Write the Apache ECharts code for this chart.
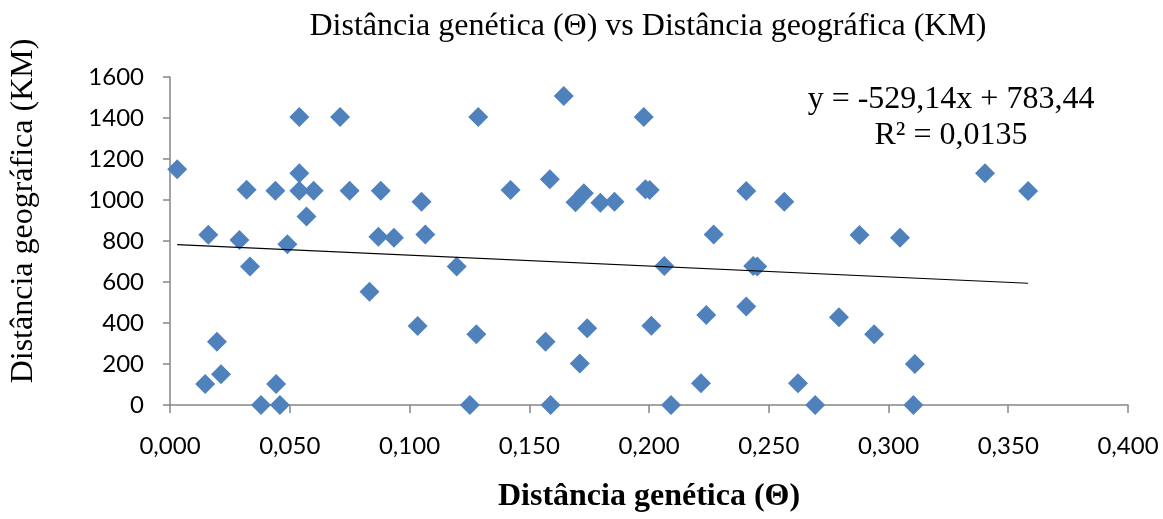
<!DOCTYPE html>
<html>
<head>
<meta charset="utf-8">
<title>Distância genética vs Distância geográfica</title>
<script src="https://cdn.jsdelivr.net/npm/echarts@6/dist/echarts.min.js"></script>
<style>
  html, body { margin: 0; padding: 0; background: #fff; }
  #chart { width: 1163px; height: 519px; }
</style>
</head>
<body>
<div id="chart"></div>
<script>
// genetic distance (Θ) per pair
var geneticDist = [
  0.003, 0.054, 0.071, 0.054, 0.032, 0.044, 0.054, 0.060, 0.075, 0.088,
  0.057, 0.105, 0.016, 0.029, 0.049, 0.087, 0.0935, 0.1066, 0.0334, 0.1197,
  0.0833, 0.1034, 0.0196, 0.0213, 0.0147, 0.0443, 0.038, 0.0459, 0.1287, 0.1644,
  0.1978, 0.1422, 0.1586, 0.1693, 0.1728, 0.1797, 0.1856, 0.1985, 0.2003, 0.2406,
  0.2565, 0.227, 0.2064, 0.2435, 0.2452, 0.1279, 0.1568, 0.1742, 0.201, 0.2239,
  0.2406, 0.1711, 0.2217, 0.1252, 0.1589, 0.2092, 0.3403, 0.3583, 0.2879, 0.3048,
  0.2793, 0.294, 0.311, 0.2622, 0.2694, 0.3104
];
// geographic distance (KM) per pair
var geoDist = [
  1150, 1405, 1405, 1130, 1050, 1045, 1045, 1045, 1045, 1045,
  920, 992, 830, 805, 784, 821, 816, 832, 676, 676,
  553, 385, 309, 150, 102, 102, 0, 0, 1405, 1507,
  1405, 1049, 1101, 989, 1033, 987, 992, 1052, 1049, 1044,
  992, 832, 678, 678, 676, 345, 309, 374, 387, 439,
  480, 203, 106, 0, 0, 0, 1130, 1044, 829, 816,
  428, 345, 200, 106, 0, 0
];
var yTicks = [0, 200, 400, 600, 800, 1000, 1200, 1400, 1600];

// linear trendline as printed on the chart
var slope = -529.14;
var intercept = 783.44;
var equationText = 'y = -529,14x + 783,44\nR² = 0,0135';

var points = geneticDist.map(function (x, i) { return [x, geoDist[i]]; });
var xMin = Math.min.apply(null, geneticDist);
var xMax = Math.max.apply(null, geneticDist);
var trend = [[xMin, slope * xMin + intercept], [xMax, slope * xMax + intercept]];

var serif = "'Liberation Serif', 'Times New Roman', serif";
var sans = "Lato, 'Liberation Sans', sans-serif";

var chart = echarts.init(document.getElementById('chart'));
chart.setOption({
  animation: false,
  title: [{
    text: 'Distância genética (Θ) vs Distância geográfica (KM)',
    left: 643,
    top: 6,
    textAlign: 'center',
    textStyle: { fontFamily: serif, fontWeight: 'normal', fontSize: 32, color: '#000' }
  }, {
    text: equationText,
    left: 946,
    top: 77,
    textAlign: 'center',
    textStyle: { fontFamily: serif, fontWeight: 'normal', fontSize: 32, lineHeight: 36, color: '#000', align: 'center' }
  }],
  grid: { left: 168, right: 35, top: 77, bottom: 114, containLabel: false },
  xAxis: {
    type: 'value',
    min: 0,
    max: 0.4,
    interval: 0.05,
    name: 'Distância genética (Θ)',
    nameLocation: 'middle',
    nameGap: 76,
    nameTextStyle: { fontFamily: serif, fontWeight: 'bold', fontSize: 32, color: '#000' },
    axisLine: { lineStyle: { color: '#868686', width: 1.5 } },
    axisTick: { show: true, inside: false, length: 8, lineStyle: { color: '#868686', width: 1.5 } },
    axisLabel: {
      margin: 29,
      fontFamily: sans, fontSize: 24, color: '#000',
      formatter: function (v) { return v.toFixed(3).replace('.', ','); }
    },
    splitLine: { show: false }
  },
  yAxis: {
    type: 'value',
    min: yTicks[0],
    max: yTicks[yTicks.length - 1],
    interval: 200,
    name: 'Distância geográfica (KM)',
    nameLocation: 'middle',
    nameGap: 130,
    nameTextStyle: { fontFamily: serif, fontWeight: 'normal', fontSize: 32, color: '#000', padding: [0, 0, 0, 60] },
    axisLine: { show: true, lineStyle: { color: '#868686', width: 1.5 } },
    axisTick: { show: true, inside: false, length: 7, lineStyle: { color: '#868686', width: 1.5 } },
    axisLabel: {
      margin: 26, fontFamily: sans, fontSize: 24, color: '#000',
      formatter: function (v) { return String(v); }
    },
    splitLine: { show: false }
  },
  series: [{
    type: 'scatter',
    symbol: 'diamond',
    symbolSize: 20,
    clip: false,
    itemStyle: { color: '#4F81BD', opacity: 1 },
    data: points,
    z: 3
  }, {
    type: 'line',
    data: trend,
    showSymbol: false,
    symbol: 'none',
    lineStyle: { color: '#000', width: 1.2 },
    z: 4
  }]
});
</script>
</body>
</html>
